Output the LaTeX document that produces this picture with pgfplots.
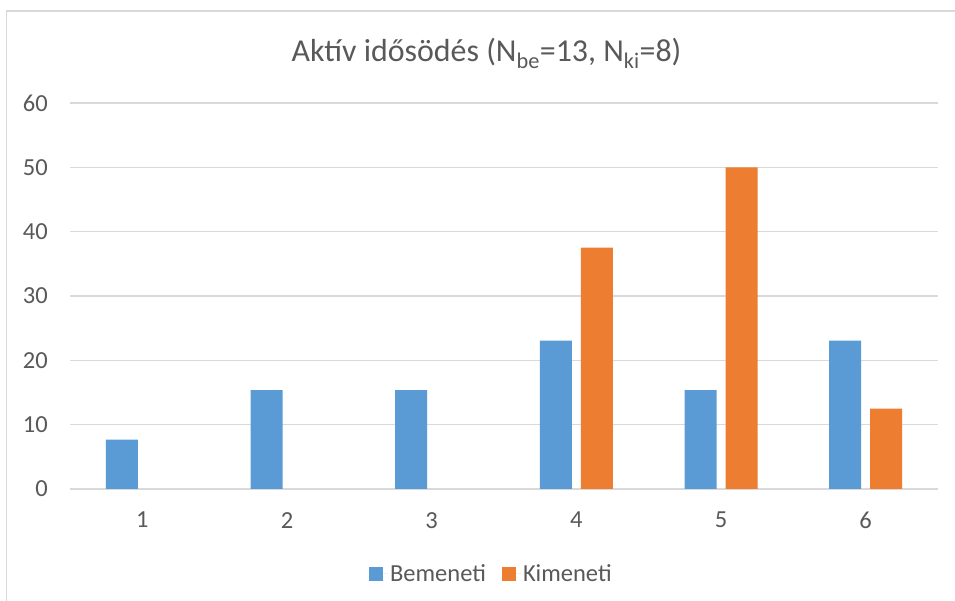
\documentclass[border=0pt]{standalone}
\usepackage{pgfplots}
\pgfplotsset{compat=1.18}
\usepackage{fontspec}
\setmainfont{Carlito}
\definecolor{cblue}{HTML}{5B9BD5}
\definecolor{corange}{HTML}{ED7D31}
\definecolor{cgrid}{HTML}{D9D9D9}
\definecolor{ctext}{HTML}{595959}
\begin{document}
\begin{tikzpicture}[x=1pt,y=1pt]
\path[use as bounding box, fill=white] (0,0) rectangle (955,601);
\draw[cgrid, line width=1.5pt] (6.5,0) -- (6.5,590) -- (955,590);
\node[text=ctext, font=\fontsize{31.9}{38}\selectfont, anchor=base] at (486.5,539) {Aktív idősödés (N\textsubscript{be}=13, N\textsubscript{ki}=8)};
\begin{axis}[
  at={(70pt,112pt)}, anchor=south west,
  scale only axis, width=868pt, height=386pt,
  xmin=0.5, xmax=6.5, ymin=0, ymax=60,
  ybar=9pt, bar width=32pt,
  xtick={1,2,3,4,5,6}, ytick={0,10,20,30,40,50,60},
  ymajorgrids, grid style={cgrid, line width=1.3pt},
  axis line style={draw=none},
  major tick length=0pt,
  /pgf/number format/assume math mode=true,
  ticklabel style={text=ctext, font=\fontsize{24.5}{29}\selectfont},
  yticklabel style={anchor=east, inner sep=0pt, xshift=-22pt},
  xticklabel style={anchor=north, inner sep=0pt, yshift=-23pt},
  legend columns=2,
  legend style={at={(0.4855,-0.22)}, anchor=center, draw=none, fill=none,
    font=\fontsize{24.5}{29}\selectfont, text=ctext,
    /tikz/every even column/.append style={column sep=14pt}},
  legend image code/.code={\fill[#1] (0pt,-7pt) rectangle (14pt,7pt); \path (0pt,0pt) -- (19pt,0pt);},
]
\addplot[fill=cblue, draw=none] coordinates {(1,7.69) (2,15.38) (3,15.38) (4,23.08) (5,15.38) (6,23.08)};
\addplot[fill=corange, draw=none] coordinates {(4,37.5) (5,50) (6,12.5)};
\addlegendentry{Bemeneti}
\addlegendentry{Kimeneti}
\end{axis}
\end{tikzpicture}
\end{document}
